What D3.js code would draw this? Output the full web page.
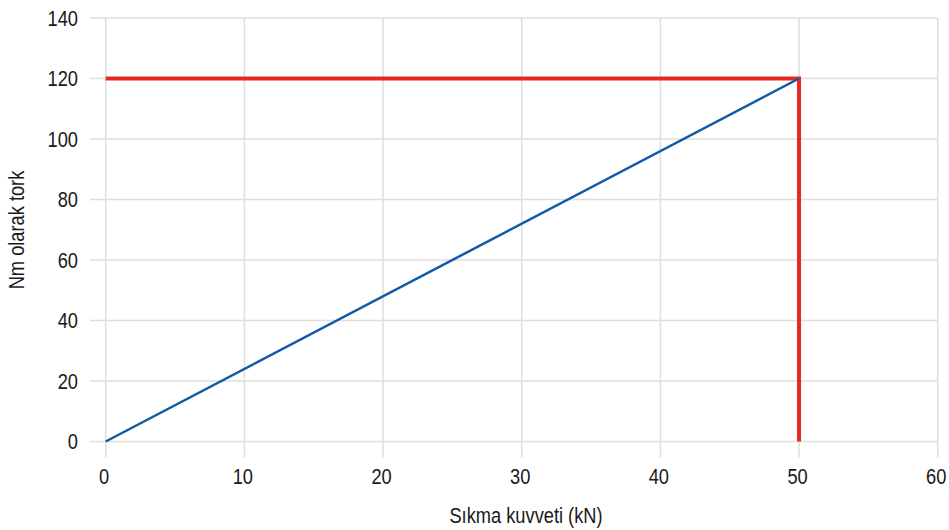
<!DOCTYPE html>
<html>
<head>
<meta charset="utf-8">
<script src="https://cdn.jsdelivr.net/npm/d3@7"></script>
<style>
  body { margin: 0; background: #fff; }
  text { font-family: "Liberation Sans", Arial, sans-serif; fill: #1a1a1a; font-size: 22px; }
</style>
</head>
<body>
<div id="chart"></div>
<script>
'use strict';

const xTicks = [0, 10, 20, 30, 40, 50, 60];
const yTicks = [0, 20, 40, 60, 80, 100, 120, 140];

// torque rises linearly with clamping force
const forceKN = [0, 50];
const torqueNm = [0, 120];

// red limit lines: horizontal at 120 Nm, vertical at 50 kN
const limitX = [0, 50, 50];
const limitY = [120, 120, 0];

const width = 949, height = 530;
const plotLeft = 105.7, plotRight = 937.7, plotTop = 18, plotBottom = 441.5;
const narrow = 0.83; // squeeze text horizontally, the original uses a narrow face

const svg = d3.select("#chart")
    .append("svg")
    .attr("width", width)
    .attr("height", height);

const x = d3.scaleLinear().domain([0, 60]).range([plotLeft, plotRight]);
const y = d3.scaleLinear().domain([0, 140]).range([plotBottom, plotTop]);

// grid
svg.append("g")
    .selectAll("line")
    .data(yTicks)
    .enter()
    .append("line")
    .attr("x1", plotLeft - 16)
    .attr("x2", plotRight)
    .attr("y1", d => y(d))
    .attr("y2", d => y(d))
    .attr("stroke", "#dedede")
    .attr("stroke-width", 1.5);

svg.append("g")
    .selectAll("line")
    .data(xTicks)
    .enter()
    .append("line")
    .attr("x1", d => x(d))
    .attr("x2", d => x(d))
    .attr("y1", plotTop)
    .attr("y2", plotBottom + 16)
    .attr("stroke", "#dedede")
    .attr("stroke-width", 1.5);

// tick labels
svg.append("g")
    .selectAll("text")
    .data(yTicks)
    .enter()
    .append("text")
    .attr("transform", d => "translate(78," + y(d) + ") scale(" + narrow + ",1)")
    .attr("dy", "0.36em")
    .attr("text-anchor", "end")
    .text(d => d);

svg.append("g")
    .selectAll("text")
    .data(xTicks)
    .enter()
    .append("text")
    .attr("transform", d => "translate(" + (x(d) - 1.5) + ",484) scale(" + narrow + ",1)")
    .attr("text-anchor", "middle")
    .text(d => d);

// axis titles
svg.append("text")
    .attr("transform", "translate(526,523) scale(" + narrow + ",1)")
    .attr("text-anchor", "middle")
    .text("Sıkma kuvveti (kN)");

svg.append("text")
    .attr("transform", "translate(23.5,230) rotate(-90) scale(" + narrow + ",1)")
    .attr("text-anchor", "middle")
    .text("Nm olarak tork");

const line = d3.line()
    .x(d => x(d[0]))
    .y(d => y(d[1]));

svg.append("path")
    .datum(limitX.map((v, i) => [v, limitY[i]]))
    .attr("d", line)
    .attr("fill", "none")
    .attr("stroke", "#e8281e")
    .attr("stroke-width", 4)
    .attr("stroke-linejoin", "miter");

svg.append("path")
    .datum(forceKN.map((v, i) => [v, torqueNm[i]]))
    .attr("d", line)
    .attr("fill", "none")
    .attr("stroke", "#0f5ba8")
    .attr("stroke-width", 2.5);
</script>
</body>
</html>
